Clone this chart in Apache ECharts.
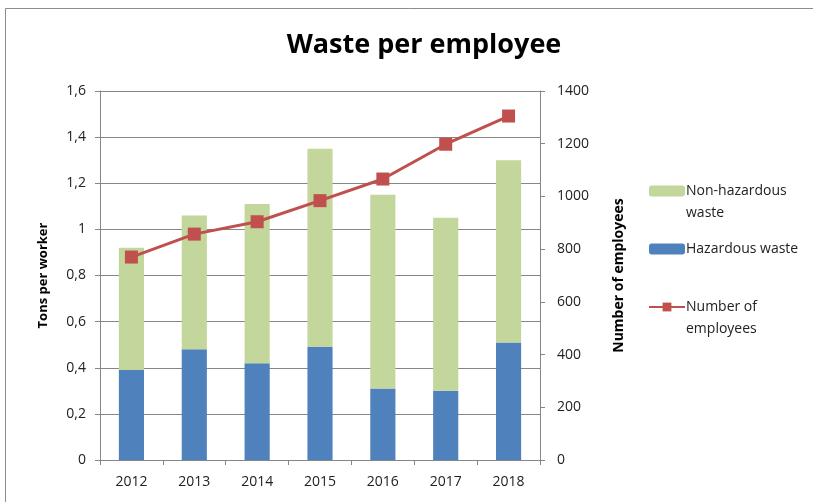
<!DOCTYPE html>
<html>
<head>
<meta charset="utf-8">
<script src="https://cdn.jsdelivr.net/npm/echarts@6/dist/echarts.min.js"></script>
<style>
  html, body { margin: 0; padding: 0; background: #fff; }
  #chart { width: 813px; height: 502px; }
</style>
</head>
<body>
<div id="chart"></div>
<script>
// chart data
const years = ['2012', '2013', '2014', '2015', '2016', '2017', '2018'];
const hazardous = [0.39, 0.48, 0.42, 0.49, 0.31, 0.30, 0.51];
const nonHazardous = [0.53, 0.58, 0.69, 0.86, 0.84, 0.75, 0.79];
const employees = [770, 857, 904, 984, 1066, 1198, 1305];

const FONT = '"Open Sans", "Noto Sans", sans-serif';
const axisGray = '#868686';

// legend labels wrap like the original (blank first line keeps icon on line 1)
const legendText = {
    'Non-hazardous waste': '\nNon-hazardous\nwaste',
    'Hazardous waste': 'Hazardous waste',
    'Number of employees': '\nNumber of\nemployees'
};

const chart = echarts.init(document.getElementById('chart'));
chart.setOption({
    animation: false,
    backgroundColor: '#fff',
    textStyle: { fontFamily: FONT },
    title: {
        text: 'Waste per employee',
        left: 419,
        textAlign: 'center',
        top: 27,
        textStyle: { fontFamily: FONT, fontSize: 27, fontWeight: 'bold', color: '#000' }
    },
    graphic: [{
        type: 'rect',
        silent: true,
        shape: { x: 5.5, y: 8.5, width: 900, height: 600 },
        style: { fill: 'none', stroke: '#8c8c8c', lineWidth: 1 }
    }],
    legend: {
        orient: 'vertical',
        left: 643,
        top: 153,
        itemWidth: 36,
        itemHeight: 11,
        itemGap: 14,
        selectedMode: false,
        data: ['Non-hazardous waste', 'Hazardous waste', 'Number of employees'],
        formatter: name => legendText[name],
        textStyle: { fontFamily: FONT, fontSize: 14, lineHeight: 22, color: '#222', padding: [0, 0, 0, -4] }
    },
    grid: { left: 100, right: 273, top: 91, bottom: 42 },
    xAxis: {
        type: 'category',
        data: years,
        axisLine: { lineStyle: { color: axisGray } },
        axisTick: { show: true, length: 5, lineStyle: { color: axisGray } },
        axisLabel: { fontSize: 14, color: '#222', margin: 15, fontFamily: FONT }
    },
    yAxis: [{
        type: 'value',
        min: 0,
        max: 1.6,
        interval: 0.2,
        name: 'Tons per worker',
        nameLocation: 'middle',
        nameRotate: 90,
        nameGap: 50,
        nameTextStyle: { fontSize: 13, fontWeight: 'bold', color: '#000', fontFamily: FONT, padding: [0, 0, 0, 0] },
        axisLine: { show: true, lineStyle: { color: axisGray } },
        axisTick: { show: true, length: 5, lineStyle: { color: axisGray } },
        axisLabel: {
            fontSize: 14, color: '#222', margin: 14, fontFamily: FONT,
            formatter: v => String(Math.round(v * 10) / 10).replace('.', ',')
        },
        splitLine: { lineStyle: { color: axisGray } }
    }, {
        type: 'value',
        min: 0,
        max: 1400,
        interval: 200,
        position: 'right',
        name: 'Number of employees',
        nameLocation: 'middle',
        nameRotate: 90,
        nameGap: 72,
        nameTextStyle: { fontSize: 14, fontWeight: 'bold', color: '#000', fontFamily: FONT },
        axisLine: { show: true, lineStyle: { color: axisGray } },
        axisTick: { show: true, length: 5, lineStyle: { color: axisGray } },
        axisLabel: { fontSize: 14, color: '#222', margin: 17, fontFamily: FONT, formatter: v => String(v) },
        splitLine: { show: false }
    }],
    series: [{
        name: 'Hazardous waste',
        type: 'bar',
        stack: 'waste',
        barWidth: '40%',
        itemStyle: { color: '#4F81BD' },
        data: hazardous
    }, {
        name: 'Non-hazardous waste',
        type: 'bar',
        stack: 'waste',
        barWidth: '40%',
        itemStyle: { color: '#C3D69B' },
        data: nonHazardous
    }, {
        name: 'Number of employees',
        type: 'line',
        yAxisIndex: 1,
        symbol: 'rect',
        symbolSize: 13,
        lineStyle: { color: '#C0504D', width: 3 },
        itemStyle: { color: '#C0504D' },
        data: employees
    }]
});
</script>
</body>
</html>
